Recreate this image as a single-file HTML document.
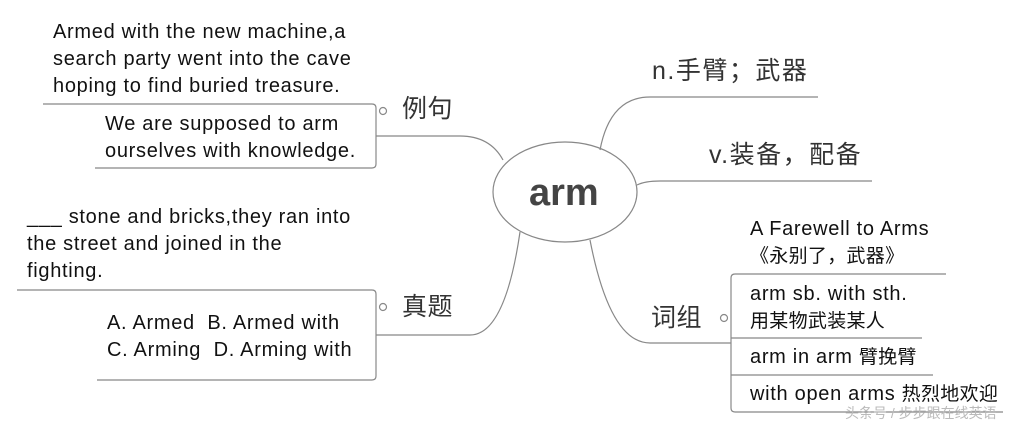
<!DOCTYPE html>
<html><head><meta charset="utf-8"><style>
body{margin:0;width:1031px;height:428px;background:#fff;overflow:hidden;position:relative;font-family:"Liberation Sans","Noto Sans CJK SC",sans-serif;color:#111}
.t{position:absolute;font-size:20px;letter-spacing:0.7px;line-height:27px;white-space:nowrap}
.t span{font-size:19px;letter-spacing:0.3px}
.c{font-size:25px;color:#333;letter-spacing:0.5px}
</style></head><body>
<svg width="1031" height="428" style="position:absolute;left:0;top:0" fill="none" stroke="#888" stroke-width="1.2">
<ellipse cx="565" cy="192" rx="72" ry="50"/>
<path d="M503,160 Q490,136 460,136 L376,136"/>
<path d="M43,104 L372,104 Q376,104 376,108 L376,164 Q376,168 372,168 L95,168"/>
<circle cx="383" cy="111" r="3.5"/>
<path d="M520,232 Q505,335 470,335 L376,335"/>
<path d="M17,290 L372,290 Q376,290 376,294 L376,376 Q376,380 372,380 L97,380"/>
<circle cx="383" cy="307" r="3.5"/>
<path d="M600,150 Q610,97 650,97 L818,97"/>
<path d="M637,185 Q645,181 660,181 L872,181"/>
<path d="M590,240 Q610,343 650,343 L731,343"/>
<path d="M946,274 L735,274 Q731,274 731,278 L731,408 Q731,412 735,412 L1003,412"/>
<path d="M731,338 L922,338 M731,375 L933,375"/>
<circle cx="724" cy="318" r="3.5"/>
</svg>
<div class="t" style="left:53px;top:19px">Armed with the new machine,a<br>search party went into the cave<br>hoping to find buried treasure.</div>
<div class="t" style="left:105px;top:111px">We are supposed to arm<br>ourselves with knowledge.</div>
<div class="t" style="left:27px;top:204px">___ stone and bricks,they ran into<br>the street and joined in the<br>fighting.</div>
<div class="t" style="left:107px;top:310px">A. Armed&nbsp; B. Armed with<br>C. Arming&nbsp; D. Arming with</div>
<div class="t c" style="left:402px;top:96px">例句</div>
<div class="t c" style="left:402px;top:294px">真题</div>
<div class="t" style="left:529px;top:172px;font-size:38px;letter-spacing:0;font-weight:bold;color:#444;line-height:42px">arm</div>
<div class="t c" style="left:652px;top:58px;letter-spacing:1.5px">n.手臂；武器</div>
<div class="t c" style="left:709px;top:142px;letter-spacing:1.5px">v.装备，配备</div>
<div class="t c" style="left:651px;top:305px">词组</div>
<div class="t" style="left:750px;top:216px">A Farewell to Arms<br><span>《永别了，武器》</span></div>
<div class="t" style="left:750px;top:281px">arm sb. with sth.<br><span>用某物武装某人</span></div>
<div class="t" style="left:750px;top:344px">arm in arm <span>臂挽臂</span></div>
<div class="t" style="left:750px;top:381px">with open arms <span>热烈地欢迎</span></div>
<div class="t" style="left:845px;top:400px;font-size:14px;letter-spacing:0;color:#bbb">头条号 / 步步跟在线英语</div>
</body></html>
